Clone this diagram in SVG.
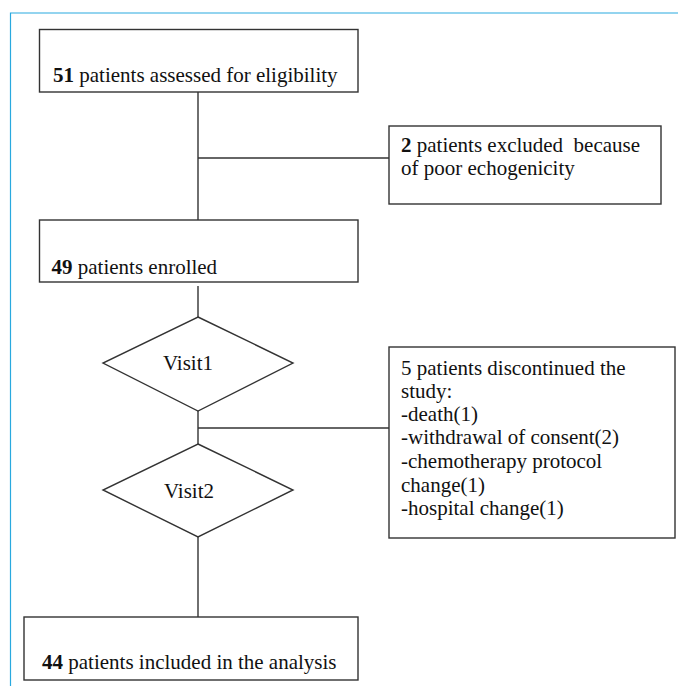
<svg xmlns="http://www.w3.org/2000/svg" width="678" height="686" viewBox="0 0 678 686">
<style>
.box{fill:#fff;stroke:#333;stroke-width:1.4}
.ln{stroke:#333;stroke-width:1.4;fill:none}
text{font-family:"Liberation Serif","Times New Roman","DejaVu Serif",serif;font-size:21px;fill:#111;white-space:pre}
.b{font-weight:bold}
</style>
<rect width="678" height="686" fill="#fff"/>
<path d="M10.5,686 V13 H678" fill="none" stroke="#29a9df" stroke-width="1.2"/>
<g id="connectors">
<line class="ln" x1="198" y1="92" x2="198" y2="220"/>
<line class="ln" x1="198" y1="158" x2="389" y2="158"/>
<line class="ln" x1="198" y1="286" x2="198" y2="317"/>
<line class="ln" x1="198" y1="411" x2="198" y2="444"/>
<line class="ln" x1="198" y1="428" x2="389" y2="428"/>
<line class="ln" x1="198" y1="537" x2="198" y2="617"/>
</g>
<g id="n1">
<rect class="box" x="39.5" y="29.5" width="318.5" height="62.5"/>
<text x="53" y="82"><tspan class="b">51</tspan> patients assessed for eligibility</text>
</g>
<g id="n2">
<rect class="box" x="389" y="126" width="272" height="78"/>
<text x="401" y="152" xml:space="preserve"><tspan class="b">2</tspan> patients excluded  because</text>
<text x="401" y="175">of poor echogenicity</text>
</g>
<g id="n3">
<rect class="box" x="39.5" y="220" width="318.5" height="62"/>
<text x="51.5" y="274"><tspan class="b">49</tspan> patients enrolled</text>
</g>
<g id="n4">
<polygon class="box" points="198,317 293,363 198,411 103,363"/>
<text x="188" y="370" text-anchor="middle">Visit1</text>
</g>
<g id="n5">
<polygon class="box" points="198,444 293,490 198,537 103,490"/>
<text x="189" y="498" text-anchor="middle">Visit2</text>
</g>
<g id="n6">
<rect class="box" x="389" y="347" width="286" height="191"/>
<text x="401" y="375">5 patients discontinued the</text>
<text x="401" y="398">study:</text>
<text x="401" y="421">-death(1)</text>
<text x="401" y="444">-withdrawal of consent(2)</text>
<text x="401" y="468">-chemotherapy protocol</text>
<text x="401" y="492">change(1)</text>
<text x="401" y="515">-hospital change(1)</text>
</g>
<g id="n7">
<rect class="box" x="24" y="617" width="334" height="63"/>
<text x="42" y="669"><tspan class="b">44</tspan> patients included in the analysis</text>
</g>
</svg>
